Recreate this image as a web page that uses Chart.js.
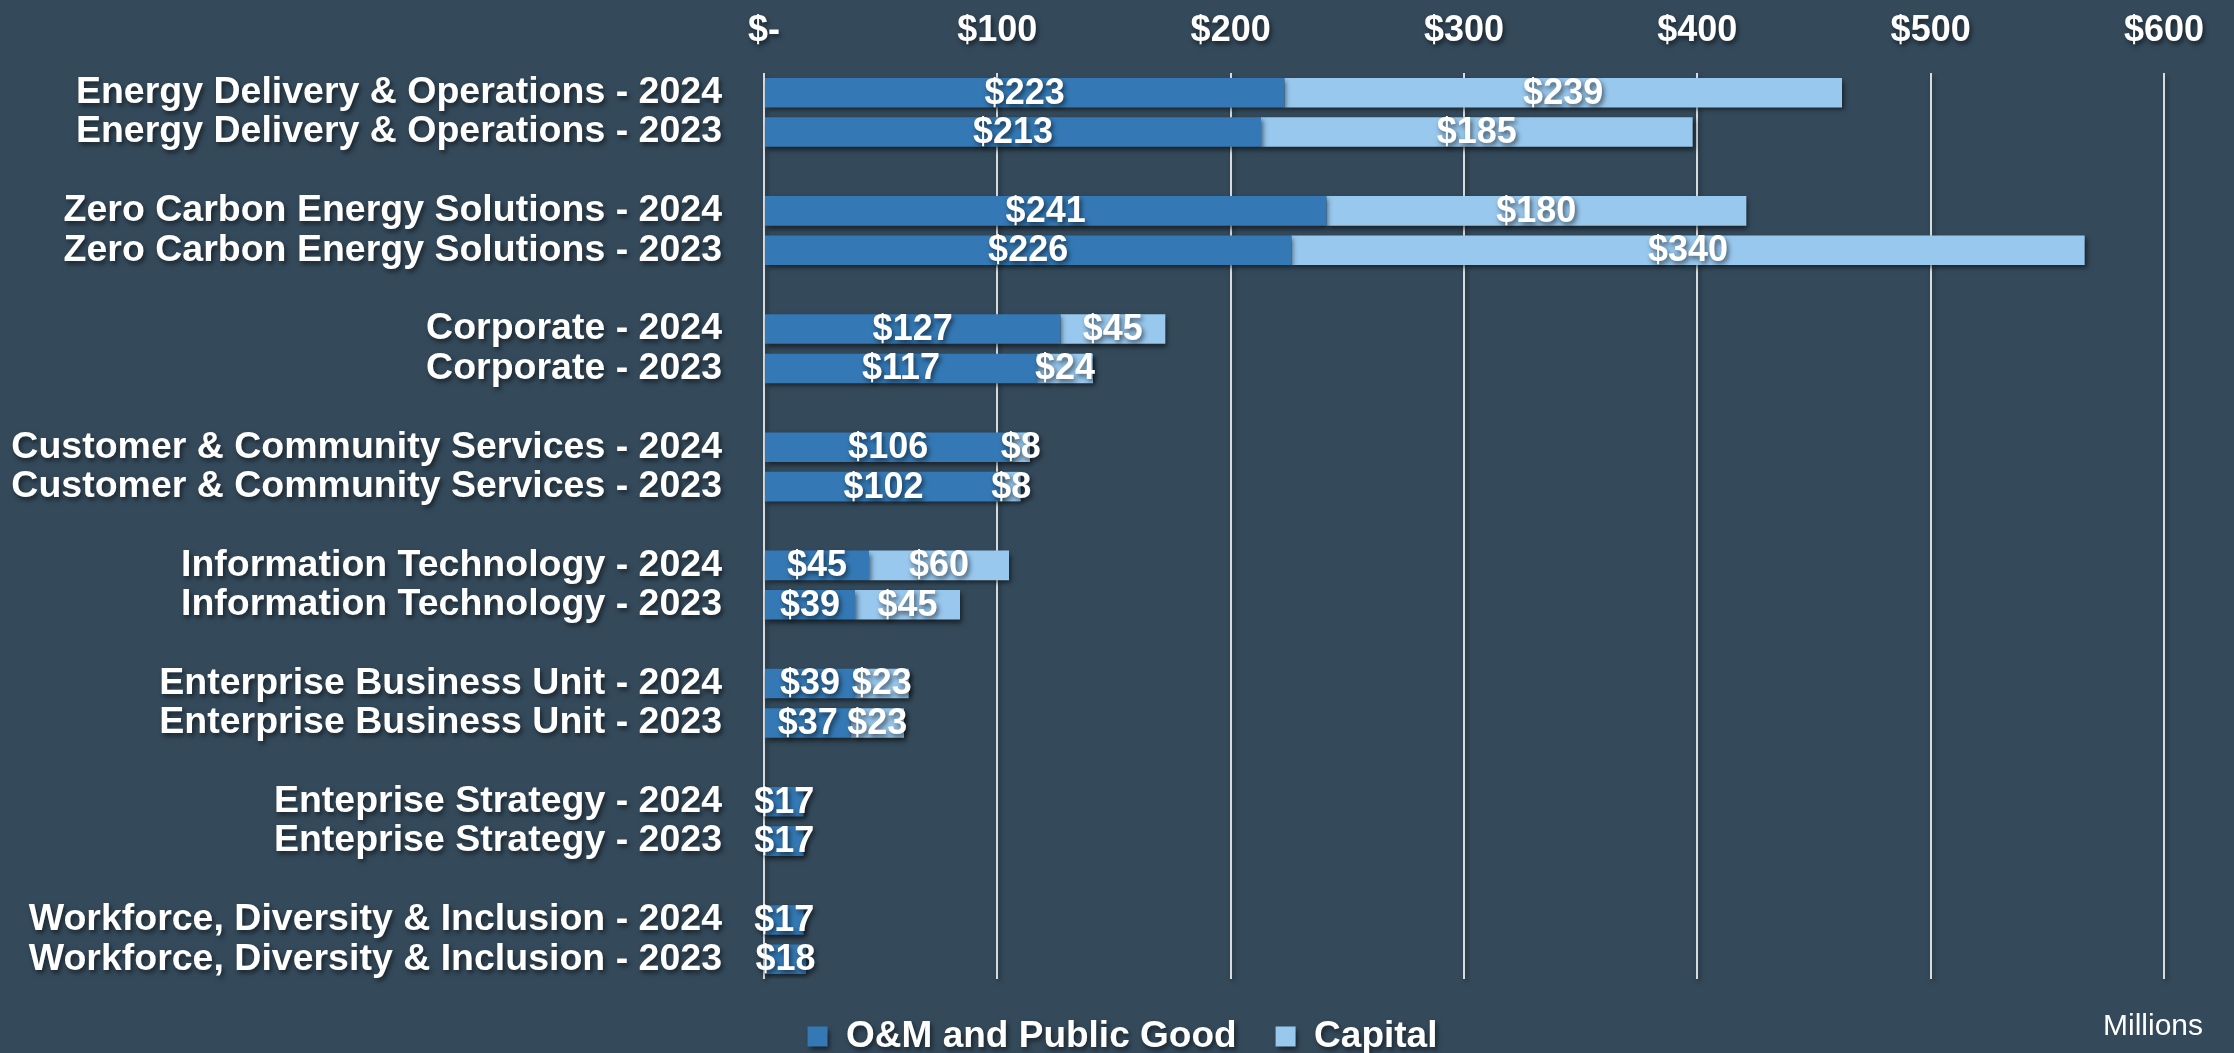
<!DOCTYPE html>
<html>
<head>
<meta charset="utf-8">
<script src="https://cdn.jsdelivr.net/npm/chart.js@4.4.1/dist/chart.umd.min.js"></script>
<style>
  html, body { margin: 0; padding: 0; background: #344a5b; }
  #wrap { width: 2234px; height: 1053px; }
</style>
</head>
<body>
<div id="wrap"><canvas id="BarChart"></canvas></div>
<script>
// Chart data (blank entries are the gaps between groups)
const categories = [
  'Energy Delivery & Operations - 2024', 'Energy Delivery & Operations - 2023', '',
  'Zero Carbon Energy Solutions - 2024', 'Zero Carbon Energy Solutions - 2023', '',
  'Corporate - 2024', 'Corporate - 2023', '',
  'Customer & Community Services - 2024', 'Customer & Community Services - 2023', '',
  'Information Technology - 2024', 'Information Technology - 2023', '',
  'Enterprise Business Unit - 2024', 'Enterprise Business Unit - 2023', '',
  'Enteprise Strategy - 2024', 'Enteprise Strategy - 2023', '',
  'Workforce, Diversity & Inclusion - 2024', 'Workforce, Diversity & Inclusion - 2023'
];
const omValues = [223, 213, null, 241, 226, null, 127, 117, null, 106, 102, null,
                  45, 39, null, 39, 37, null, 17, 17, null, 17, 18];
const capitalValues = [239, 185, null, 180, 340, null, 45, 24, null, 8, 8, null,
                       60, 45, null, 23, 23, null, 0, 0, null, 0, 0];
const seriesNames = ['O&M and Public Good', 'Capital'];
const xTicks = [0, 100, 200, 300, 400, 500, 600];

const FONT = "'Liberation Sans', Arial, sans-serif";

// Dark drop shadow on everything, like the slide export
const shadowPlugin = {
  id: 'shadow',
  beforeDraw(chart) {
    const ctx = chart.ctx;
    ctx.save();
    ctx.shadowColor = 'rgba(0, 0, 0, 0.55)';
    ctx.shadowBlur = 5;
    ctx.shadowOffsetX = 2;
    ctx.shadowOffsetY = 3;
  },
  afterDraw(chart) {
    chart.ctx.restore();
  }
};

// Centre the legend on the page rather than on the padded box
const legendShift = {
  id: 'legendShift',
  afterLayout(chart) {
    chart.legend.left = 81;
  }
};

// Value labels centred in each bar segment
const barLabels = {
  id: 'barLabels',
  afterDatasetsDraw(chart) {
    const ctx = chart.ctx;
    ctx.save();
    ctx.font = 'bold 36px ' + FONT;
    ctx.fillStyle = '#ffffff';
    ctx.textAlign = 'center';
    ctx.textBaseline = 'middle';
    chart.data.datasets.forEach((ds, i) => {
      chart.getDatasetMeta(i).data.forEach((bar, j) => {
        const v = ds.data[j];
        if (!v) return;
        const p = bar.getProps(['x', 'y', 'base'], true);
        ctx.fillText('$' + v, (p.x + p.base) / 2, p.y + 1);
      });
    });
    ctx.restore();
  }
};

// "Millions" note in the bottom right corner
const unitNote = {
  id: 'unitNote',
  afterDraw(chart) {
    const ctx = chart.ctx;
    ctx.save();
    ctx.font = '30px ' + FONT;
    ctx.fillStyle = '#ffffff';
    ctx.textAlign = 'right';
    ctx.textBaseline = 'middle';
    ctx.fillText('Millions', chart.width - 31, chart.height - 26);
    ctx.restore();
  }
};

const ctx_bar = document.getElementById('BarChart').getContext('2d');
const chart = new Chart(ctx_bar, {
  type: 'bar',
  data: {
    labels: categories,
    datasets: [{
      label: seriesNames[0],
      data: omValues,
      backgroundColor: '#3479b5',
      barPercentage: 0.75,
      categoryPercentage: 1
    }, {
      label: seriesNames[1],
      data: capitalValues,
      backgroundColor: '#98c8ee',
      barPercentage: 0.75,
      categoryPercentage: 1
    }]
  },
  options: {
    indexAxis: 'y',
    responsive: true,
    maintainAspectRatio: false,
    animation: false,
    layout: { padding: { top: 0, right: 70, bottom: -12, left: 0 } },
    plugins: {
      legend: {
        position: 'bottom',
        labels: {
          color: '#ffffff',
          font: { family: FONT, size: 37, weight: 'bold' },
          boxWidth: 20,
          boxHeight: 20,
          padding: 39
        }
      },
      tooltip: { enabled: false }
    },
    scales: {
      x: {
        position: 'top',
        stacked: true,
        min: 0,
        max: 600,
        afterBuildTicks(scale) {
          scale.ticks = xTicks.map(v => ({ value: v }));
        },
        afterFit(scale) { scale.height = 73; },
        grid: {
          color: 'rgba(235, 235, 235, 0.9)',
          lineWidth: 2,
          drawTicks: false
        },
        border: { display: false },
        ticks: {
          color: '#ffffff',
          padding: 20,
          font: { family: FONT, size: 36, weight: 'bold' },
          callback: v => v === 0 ? '$-' : '$' + v
        }
      },
      y: {
        stacked: true,
        grid: { display: false, drawTicks: false },
        border: { display: false },
        afterFit(scale) { scale.width = 764; },
        ticks: {
          color: '#ffffff',
          autoSkip: false,
          padding: 42,
          font: { family: FONT, size: 37.5, weight: 'bold' }
        }
      }
    }
  },
  plugins: [shadowPlugin, legendShift, barLabels, unitNote]
});
</script>
</body>
</html>
